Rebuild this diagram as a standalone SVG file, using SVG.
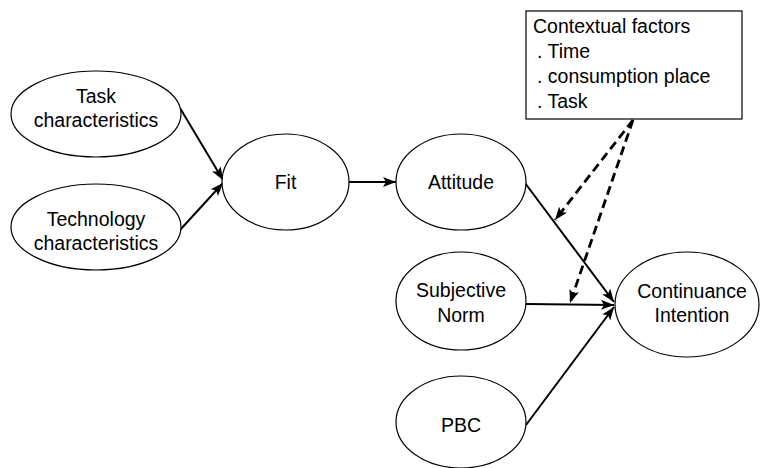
<svg xmlns="http://www.w3.org/2000/svg" width="760" height="468" viewBox="0 0 760 468">
<defs>
<marker id="ah" markerUnits="userSpaceOnUse" markerWidth="14" markerHeight="12" refX="13" refY="5" orient="auto">
<path d="M0,0 L13,5 L0,10 L3,5 z" fill="#000"/>
</marker>
<style>
.n ellipse{fill:#fff;stroke:#000;stroke-width:1.2}
text{font-family:"Liberation Sans",Arial,sans-serif;font-size:19.5px;fill:#000}
.c{text-anchor:middle}
.s{stroke:#000;stroke-width:2;fill:none}
.d{stroke:#000;stroke-width:2.8;fill:none;stroke-dasharray:9,5}
</style>
</defs>
<rect width="760" height="468" fill="#fff"/>
<g id="connectors">
<line class="s" x1="180" y1="108" x2="223" y2="180" marker-end="url(#ah)"/>
<line class="s" x1="180" y1="230" x2="223" y2="183" marker-end="url(#ah)"/>
<line class="s" x1="349" y1="182" x2="396" y2="182" marker-end="url(#ah)"/>
<line class="s" x1="525" y1="183" x2="614" y2="302" marker-end="url(#ah)"/>
<line class="s" x1="526" y1="304" x2="614" y2="305" marker-end="url(#ah)"/>
<line class="s" x1="526" y1="425" x2="614" y2="307" marker-end="url(#ah)"/>
<line class="d" x1="633" y1="120" x2="555" y2="220" marker-end="url(#ah)"/>
<line class="d" x1="633" y1="120" x2="570" y2="303" marker-end="url(#ah)"/>
</g>
<g id="task" class="n"><ellipse cx="96" cy="114" rx="85" ry="43"/><text class="c" x="96" y="103">Task</text><text class="c" x="96" y="127">characteristics</text></g>
<g id="technology" class="n"><ellipse cx="96" cy="227" rx="85" ry="43"/><text class="c" x="96" y="226">Technology</text><text class="c" x="96" y="250">characteristics</text></g>
<g id="fit" class="n"><ellipse cx="285.5" cy="182" rx="63.5" ry="48"/><text class="c" x="285.5" y="189">Fit</text></g>
<g id="attitude" class="n"><ellipse cx="461" cy="182" rx="65" ry="48"/><text class="c" x="461" y="189">Attitude</text></g>
<g id="subjective-norm" class="n"><ellipse cx="461" cy="301" rx="65" ry="49"/><text class="c" x="461" y="297">Subjective</text><text class="c" x="461" y="322">Norm</text></g>
<g id="pbc" class="n"><ellipse cx="461" cy="422" rx="65" ry="46"/><text class="c" x="461" y="432">PBC</text></g>
<g id="continuance" class="n"><ellipse cx="687" cy="304.5" rx="72" ry="52.5"/><text class="c" x="692" y="298">Continuance</text><text class="c" x="692" y="322">Intention</text></g>
<g id="contextual">
<rect x="526" y="11" width="216" height="108" fill="#fff" stroke="#000" stroke-width="1.2"/>
<text x="533" y="33">Contextual factors</text>
<text x="537" y="58">. Time</text>
<text x="537" y="83">. consumption place</text>
<text x="537" y="108">. Task</text>
</g>
</svg>
